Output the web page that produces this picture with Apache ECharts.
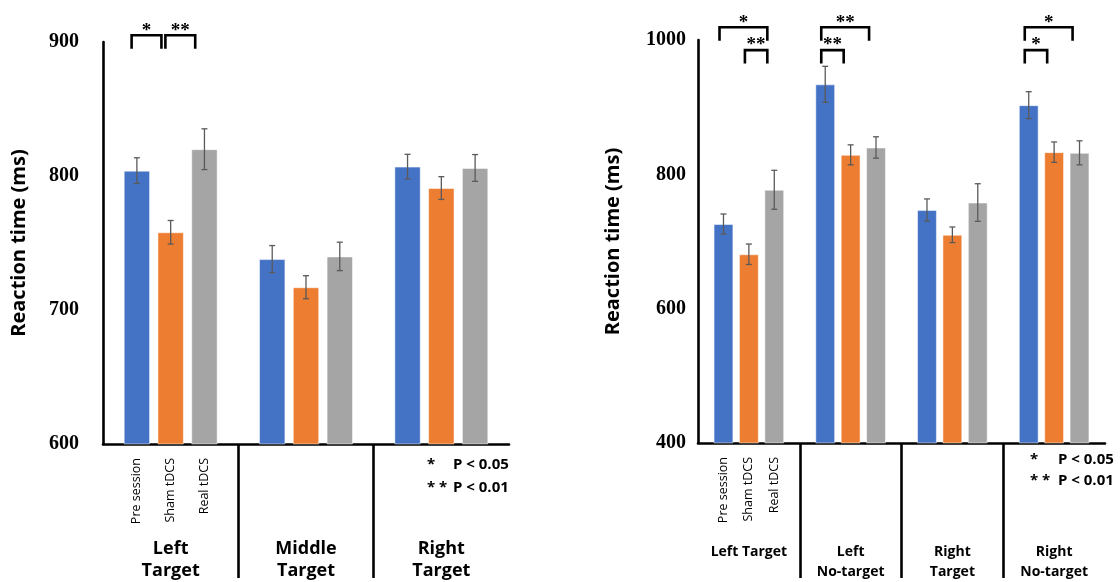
<!DOCTYPE html>
<html>
<head>
<meta charset="utf-8">
<script src="https://cdn.jsdelivr.net/npm/echarts@6/dist/echarts.min.js"></script>
<style>
html,body{margin:0;padding:0;background:#fff;}
#chart{width:1120px;height:582px;}
</style>
</head>
<body>
<div id="chart"></div>
<script>
// ---------- data ----------
const subLabels = ['Pre session', 'Sham tDCS', 'Real tDCS'];
const seriesNames = ['Pre session', 'Sham tDCS', 'Real tDCS'];
const seriesColors = ['#4472C4', '#ED7D31', '#A5A5A5'];

const leftCategories = ['Left\nTarget', 'Middle\nTarget', 'Right\nTarget'];
const leftPre  = [804, 738, 807];
const leftSham = [758, 717, 791];
const leftReal = [820, 740, 806];
const leftPreErr  = [9.6, 10.1, 9.2];
const leftShamErr = [8.8, 8.6, 8.5];
const leftRealErr = [15.2, 10.6, 10];
const leftYTicks = [600, 700, 800, 900];
// [category, fromBar, toBar, level, label]
const leftBrackets = [[0, 0, 1, 905, '*'], [0, 1, 2, 905, '**']];

const rightCategories = ['Left Target', 'Left\nNo-target', 'Right\nTarget', 'Right\nNo-target'];
const rightPre  = [726, 934, 747, 903];
const rightSham = [681, 829, 710, 833];
const rightReal = [777, 840, 758, 832];
const rightPreErr  = [14.9, 26.8, 16.4, 20];
const rightShamErr = [15.2, 14.9, 11.6, 15.2];
const rightRealErr = [29, 15.9, 28, 17.9];
const rightYTicks = [400, 600, 800, 1000];
const rightBrackets = [
  [0, 0, 2, 1019, '*'], [0, 1, 2, 985, '**'],
  [1, 0, 2, 1019, '**'], [1, 0, 1, 985, '**'],
  [3, 0, 2, 1019, '*'], [3, 0, 1, 985, '*']
];

const legendStars = ['*', '* *'];
const legendTexts = ['P < 0.05', 'P < 0.01'];
const yTitle = 'Reaction time (ms)';

// ---------- styling / layout ----------
const BAR_W = 0.195;   // fraction of category band
const BAR_GAP = 0.28;  // fraction of bar width
const SANS = '"Open Sans", "DejaVu Sans", sans-serif';
const SERIF = '"Liberation Serif", "DejaVu Serif", serif';

function errItems(vals, errs) {
  const out = [];
  vals.forEach((arr, s) => arr.forEach((v, c) => out.push([c, s, v, errs[s][c]])));
  return out;
}

function errRender(params, api) {
  const cat = api.value(0), s = api.value(1), v = api.value(2), e = api.value(3);
  const band = api.size([1, 0])[0];
  const w = band * BAR_W;
  const cx = api.coord([cat, v])[0] + (s - 1) * w * (1 + BAR_GAP);
  const yT = api.coord([cat, v + e])[1];
  const yB = api.coord([cat, v - e])[1];
  const st = { stroke: '#5a5a5a', lineWidth: 1.3 };
  return {
    type: 'group',
    children: [
      { type: 'line', shape: { x1: cx, y1: yT, x2: cx, y2: yB }, style: st },
      { type: 'line', shape: { x1: cx - 3, y1: yT, x2: cx + 3, y2: yT }, style: st },
      { type: 'line', shape: { x1: cx - 3, y1: yB, x2: cx + 3, y2: yB }, style: st }
    ]
  };
}

function bracketRender(params, api, labels) {
  const cat = api.value(0), a = api.value(1), b = api.value(2), lvl = api.value(3);
  const label = labels[params.dataIndex];
  const band = api.size([1, 0])[0];
  const w = band * BAR_W;
  const c0 = api.coord([cat, lvl]);
  const x1 = c0[0] + (a - 1) * w * (1 + BAR_GAP) - 0.2 * w;
  const x2 = c0[0] + (b - 1) * w * (1 + BAR_GAP) - 0.35 * w;
  const y = c0[1];
  const leg = 13.5;
  return {
    type: 'group',
    children: [
      { type: 'polyline', shape: { points: [[x1, y + leg], [x1, y], [x2, y], [x2, y + leg]] },
        style: { stroke: '#000', lineWidth: 2.6, fill: null } },
      { type: 'text', x: (x1 + x2) / 2, y: y - 4.5,
        style: { text: label, fill: '#000', font: 'bold 19px ' + SERIF, align: 'center', verticalAlign: 'middle' } }
    ]
  };
}

function makeBracketSeries(xIdx, yIdx, brackets) {
  const labels = brackets.map(b => b[4]);
  return {
    type: 'custom', xAxisIndex: xIdx, yAxisIndex: yIdx, silent: true, clip: false, z: 10,
    encode: { x: 0, y: 3 },
    data: brackets.map(b => [b[0], b[1], b[2], b[3]]),
    renderItem: function (params, api) { return bracketRender(params, api, labels); }
  };
}

function subLabelPositions() {
  const d = BAR_W * (1 + BAR_GAP);
  return [0.5 - d, 0.5, 0.5 + d];
}

function makeAxes(gridIdx, cats, yTicks, catFont, catLineH, catMargin, yMargin, nameGap, divLen) {
  const nCat = cats.length;
  const pos = subLabelPositions();
  const x = [
    {
      type: 'category', gridIndex: gridIdx, data: cats,
      axisLine: { lineStyle: { color: '#000', width: 2.6 } },
      axisTick: { show: false },
      axisLabel: { interval: 0, margin: catMargin, color: '#000', fontFamily: SANS, fontWeight: 'bold',
                   fontSize: catFont, lineHeight: catLineH },
      splitLine: { show: false }
    },
    {
      type: 'value', gridIndex: gridIdx, position: 'bottom', min: 0, max: nCat,
      axisLine: { show: false },
      splitLine: { show: false },
      axisTick: { show: true, customValues: Array.from({ length: nCat - 1 }, (_, i) => i + 1),
                  length: divLen, lineStyle: { color: '#000', width: 2.6 } },
      axisLabel: { show: true, customValues: pos, rotate: 90, margin: 14, color: '#000',
                   fontFamily: SANS, fontSize: 12.5,
                   formatter: function (v) {
                     let best = 0, bd = 1e9;
                     pos.forEach((p, i) => { if (Math.abs(p - v) < bd) { bd = Math.abs(p - v); best = i; } });
                     return subLabels[best];
                   } }
    }
  ];
  const y = {
    type: 'value', gridIndex: gridIdx,
    min: yTicks[0], max: yTicks[yTicks.length - 1], interval: yTicks[1] - yTicks[0],
    name: yTitle, nameLocation: 'middle', nameGap: nameGap,
    nameTextStyle: { color: '#000', fontFamily: SANS, fontWeight: 'bold', fontSize: 20 },
    axisLine: { show: true, lineStyle: { color: '#000', width: 2.6 } },
    axisTick: { show: false },
    splitLine: { show: false },
    axisLabel: { margin: yMargin, color: '#000', fontFamily: SERIF, fontWeight: 'bold', fontSize: 20,
                 formatter: function (v) { return String(v); } }
  };
  return { x, y };
}

const L = makeAxes(0, leftCategories, leftYTicks, 18, 22, 94, 24, 74, 134);
const R = makeAxes(1, rightCategories, rightYTicks, 14, 20, 99, 12, 75, 135);

function barSeries(xIdx, yIdx, vals) {
  return vals.map((arr, i) => ({
    type: 'bar', name: seriesNames[i], xAxisIndex: xIdx, yAxisIndex: yIdx,
    data: arr, barWidth: (BAR_W * 100) + '%', barGap: (BAR_GAP * 100) + '%',
    itemStyle: { color: seriesColors[i], borderColor: 'rgba(255,255,255,0.5)', borderWidth: 1 },
    silent: true
  }));
}

const leftVals = [leftPre, leftSham, leftReal];
const rightVals = [rightPre, rightSham, rightReal];

const series = [].concat(
  barSeries(0, 0, leftVals),
  barSeries(2, 1, rightVals),
  [{ type: 'custom', xAxisIndex: 0, yAxisIndex: 0, silent: true, z: 5, encode: { x: 0, y: 2 },
     data: errItems(leftVals, [leftPreErr, leftShamErr, leftRealErr]), renderItem: errRender },
   { type: 'custom', xAxisIndex: 2, yAxisIndex: 1, silent: true, z: 5, encode: { x: 0, y: 2 },
     data: errItems(rightVals, [rightPreErr, rightShamErr, rightRealErr]), renderItem: errRender },
   makeBracketSeries(0, 0, leftBrackets),
   makeBracketSeries(2, 1, rightBrackets)]
);

function legendGraphics(xStar, xText, yRows) {
  const g = [];
  legendStars.forEach((s, i) => {
    g.push({ type: 'text', x: xStar, y: yRows[i],
             style: { text: s, fill: '#000', font: 'bold 15px ' + SANS, verticalAlign: 'middle' } });
    g.push({ type: 'text', x: xText, y: yRows[i],
             style: { text: legendTexts[i], fill: '#000', font: 'bold 15px ' + SANS, verticalAlign: 'middle' } });
  });
  return g;
}

const option = {
  backgroundColor: '#fff',
  animation: false,
  grid: [
    { left: 103, top: 42, width: 406, height: 403 },
    { left: 698, top: 40, width: 407, height: 403 }
  ],
  xAxis: [L.x[0], L.x[1], R.x[0], R.x[1]],
  yAxis: [L.y, R.y],
  series: series,
  graphic: legendGraphics(427, 453, [465, 488]).concat(legendGraphics(1030, 1058, [460, 481]))
};

const chart = echarts.init(document.getElementById('chart'), null, { renderer: 'canvas' });
chart.setOption(option);
</script>
</body>
</html>
